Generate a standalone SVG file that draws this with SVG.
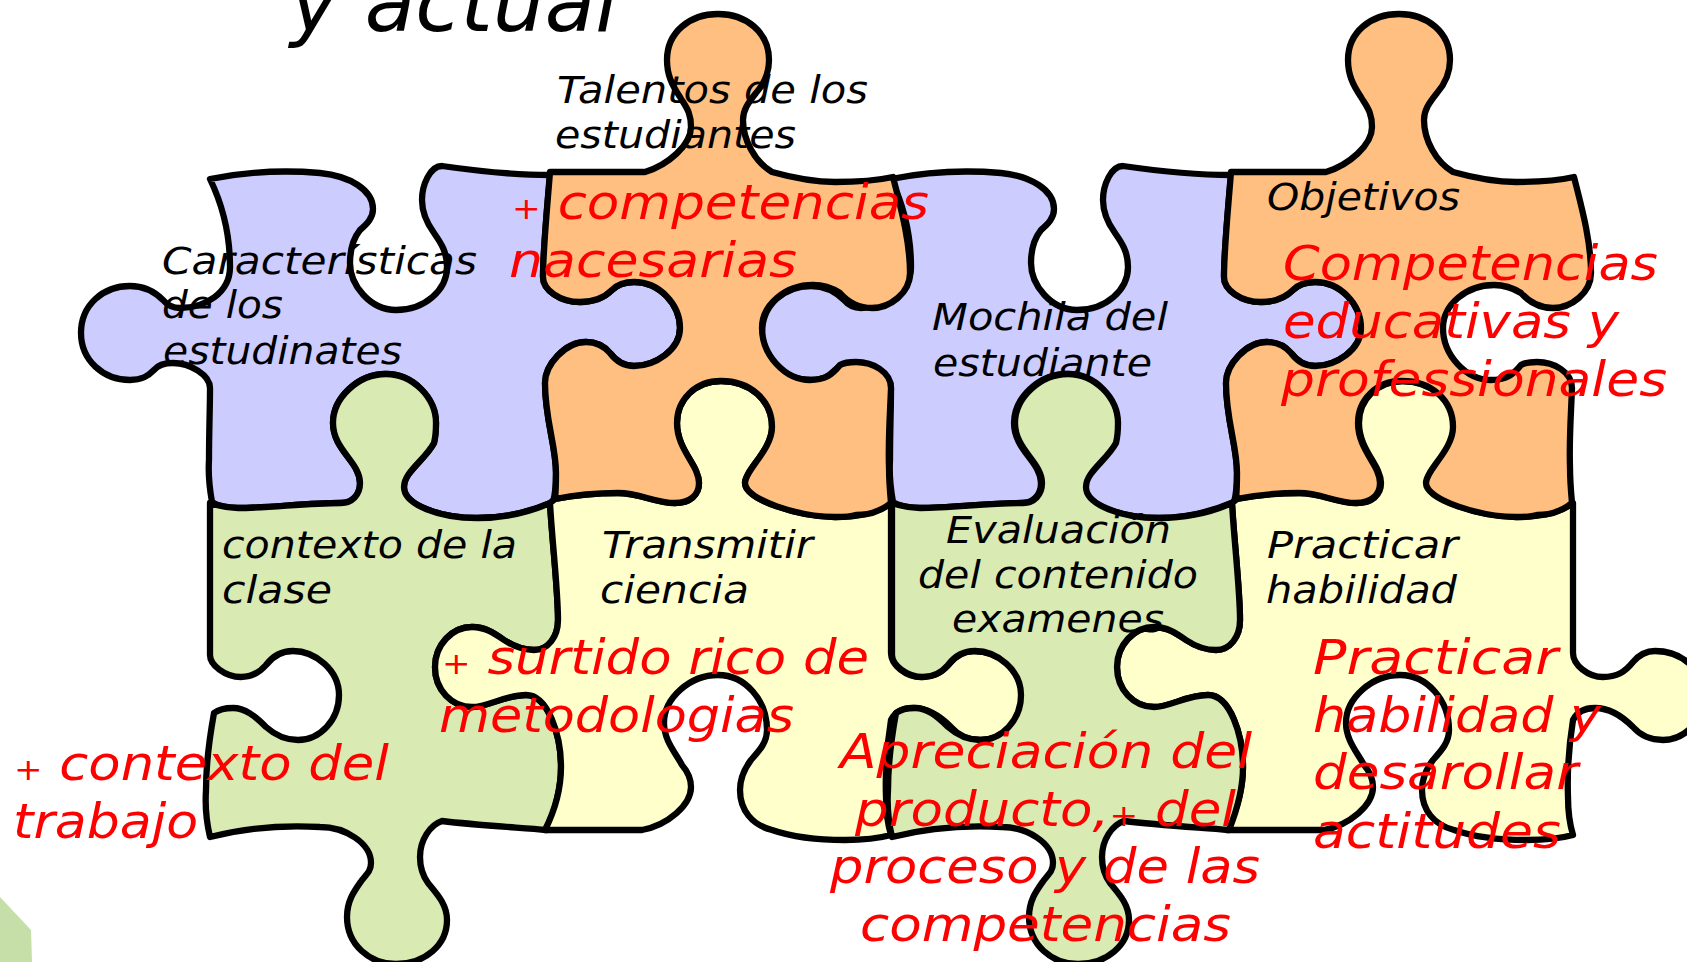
<svg xmlns="http://www.w3.org/2000/svg" xmlns:xlink="http://www.w3.org/1999/xlink" width="1687" height="962" viewBox="0 0 1687 962">
<style>
.p{stroke:#000;stroke-width:6.3;stroke-linejoin:round;stroke-linecap:round}
.blue{fill:#ccccff}.orange{fill:#ffbf80}.green{fill:#d9eab3}.yellow{fill:#ffffcc}
text{font-family:"DejaVu Sans","Liberation Sans",sans-serif;font-style:italic;}
.k{font-size:37px;fill:#000}
.r{font-size:48px;fill:#f00}
.plus{font-size:31px}
</style>
<defs>
<path id="s-blue" d="M210 179 C245 172 285 170 320 173 C350 176 373 190 373 209 C373 218 367 224 360 230 C352 240 350 250 350 263 C350 285 370 310 396 310 C425 310 447 290 447 267 C447 252 441 243 434 233 C426 222 422 212 422 200 C422 185 430 166 442 166 C470 170 510 175 550 175 C547 210 543 250 543 277 C543 290 560 302 580 302 C595 302 604 298 612 290 C618 284 625 282 634 282 C660 282 680 305 680 328 C680 350 655 366 634 366 C623 366 616 361 610 353 C604 346 597 342 586 342 C565 342 545 365 545 383 C545 420 556 445 556 473 C556 485 555 495 553 502 C530 512 505 518 477 518 C440 518 404 505 404 487 C404 472 425 460 434 443 C436 435 436 430 436 423 C436 398 413 374 386 374 C358 374 333 398 333 423 C333 450 360 462 360 483 C360 495 352 503 341 503 C305 503 270 508 238 508 C226 508 216 505 212 502 C209 485 208 475 209 460 C209 430 210 410 210 388 C210 375 190 363 173 363 C163 363 158 365 154 370 C148 376 142 380 130 380 C103 380 81 360 81 333 C81 305 103 286 130 286 C145 286 155 292 163 300 C168 306 175 308 180 308 C205 308 230 293 230 267 C230 240 225 210 210 179 Z"/>
<path id="s-orange" d="M550 172 L645 172 C668 165 691 145 691 127 C691 112 686 107 680 97 C672 85 667 75 667 60 C667 32 690 14 718 14 C746 14 769 32 769 60 C769 75 763 85 756 93 C748 103 743 110 743 120 C743 140 755 162 772 172 C790 177 815 182 835 182 C855 182 875 181 893 177 C900 205 910 240 910 273 C910 293 890 308 872 308 C858 308 848 302 840 293 C832 288 825 285 813 285 C785 285 762 305 762 328 C762 355 785 380 810 380 C825 380 832 375 840 365 C845 362 850 362 856 362 C873 362 891 372 891 388 C890 415 888 440 889 467 C889 480 890 492 891 503 C880 512 868 515 856 515 C850 517 842 517 835 517 C800 517 745 500 745 483 C745 470 772 450 772 427 C772 400 750 381 721 381 C695 381 677 400 677 423 C677 450 699 465 699 483 C699 495 690 503 675 503 C655 503 640 493 618 493 C595 493 575 495 555 499 C556 490 556 482 556 473 C556 445 545 420 545 383 C545 365 565 342 586 342 C597 342 604 346 610 353 C616 361 623 366 634 366 C655 366 680 350 680 328 C680 305 660 282 634 282 C625 282 618 284 612 290 C604 298 595 302 580 302 C560 302 543 290 543 277 C543 250 547 210 550 172 Z"/>
<path id="s-green" d="M210 503 C216 505 226 508 238 508 C270 508 305 503 341 503 C352 503 360 495 360 483 C360 462 333 450 333 423 C333 398 358 374 386 374 C413 374 436 398 436 423 C436 430 436 435 434 443 C425 460 404 472 404 487 C404 505 440 518 477 518 C505 518 530 512 550 503 C552 540 558 590 558 620 C558 637 548 650 534 650 C522 650 513 646 504 640 C494 633 485 627 472 627 C452 627 435 645 435 667 C435 690 452 707 472 707 C488 707 505 695 526 695 C548 695 561 735 561 767 C561 790 555 810 547 830 C510 827 475 825 442 821 C430 825 420 840 420 857 C420 868 423 876 428 883 C438 895 447 905 447 920 C447 945 425 964 396 964 C370 964 347 945 347 917 C347 900 355 890 362 880 C368 873 371 870 371 863 C371 843 345 827 320 827 C285 825 245 828 210 837 C206 820 205 805 206 790 C206 765 210 735 214 713 C218 710 225 708 233 708 C245 708 255 716 266 727 C275 735 285 740 298 740 C320 740 339 720 339 695 C339 670 315 651 293 651 C280 651 272 657 266 665 C260 672 252 677 241 677 C225 677 210 665 210 655 Z"/>
<path id="s-yellow" d="M555 499 C575 495 595 493 618 493 C640 493 655 503 675 503 C690 503 699 495 699 483 C699 465 677 450 677 423 C677 400 695 381 721 381 C750 381 772 400 772 427 C772 450 745 470 745 483 C745 500 800 517 835 517 C850 517 875 515 891 503 L891 653 C891 665 906 677 921 677 C935 677 943 672 951 662 C957 655 963 651 973 651 C1000 651 1022 670 1022 697 C1022 720 1003 740 981 740 C968 740 958 735 951 727 C940 716 928 708 913 708 C903 708 895 712 891 720 C887 745 885 770 886 797 C886 810 888 825 891 835 C880 838 865 840 845 840 C820 840 795 838 772 830 C752 825 740 810 740 790 C740 778 745 768 751 760 C760 750 767 742 767 730 C767 700 745 675 718 675 C690 675 664 698 664 723 C664 740 675 752 682 765 C688 772 691 780 691 787 C691 805 668 825 642 830 L545 830 C555 810 561 790 561 767 C561 735 548 695 526 695 C505 695 488 707 472 707 C452 707 435 690 435 667 C435 645 452 627 472 627 C485 627 494 633 504 640 C513 646 522 650 534 650 C548 650 558 637 558 620 C558 590 552 540 550 503 Z"/>
</defs>
<g id="title"><text x="290" y="31" font-size="82" fill="#000" textLength="328" lengthAdjust="spacingAndGlyphs">y actual</text></g>
<polygon id="corner" points="0,897 31,930 32,962 0,962" fill="#c6dfa8"/>
<g id="caracteristicas">
<use href="#s-blue" class="p blue"/>
<text class="k" x="162" y="274" textLength="315" lengthAdjust="spacingAndGlyphs">Características</text>
<text class="k" x="162" y="318" textLength="121" lengthAdjust="spacingAndGlyphs">de los</text>
<text class="k" x="163" y="364" textLength="239" lengthAdjust="spacingAndGlyphs">estudinates</text>
</g>
<g id="mochila">
<use href="#s-blue" x="681" class="p blue"/>
<text class="k" x="932" y="330" textLength="236" lengthAdjust="spacingAndGlyphs">Mochila del</text>
<text class="k" x="933" y="376" textLength="219" lengthAdjust="spacingAndGlyphs">estudiante</text>
</g>
<g id="contexto">
<use href="#s-green" class="p green"/>
<text class="k" x="222" y="558" textLength="295" lengthAdjust="spacingAndGlyphs">contexto de la</text>
<text class="k" x="222" y="603" textLength="110" lengthAdjust="spacingAndGlyphs">clase</text>
<text class="r" x="14" y="780" textLength="375" lengthAdjust="spacingAndGlyphs"><tspan class="plus">+</tspan> contexto del</text>
<text class="r" x="13" y="838" textLength="185" lengthAdjust="spacingAndGlyphs">trabajo</text>
</g>
<g id="transmitir">
<use href="#s-yellow" class="p yellow"/>
<text class="k" x="602" y="558" textLength="211" lengthAdjust="spacingAndGlyphs">Transmitir</text>
<text class="k" x="600" y="603" textLength="149" lengthAdjust="spacingAndGlyphs">ciencia</text>
<text class="r" x="442" y="674" textLength="427" lengthAdjust="spacingAndGlyphs"><tspan class="plus">+</tspan> surtido rico de</text>
<text class="r" x="439" y="732" textLength="355" lengthAdjust="spacingAndGlyphs">metodologias</text>
</g>
<g id="practicar">
<use href="#s-yellow" x="682" class="p yellow"/>
<text class="k" x="1267" y="558" textLength="191" lengthAdjust="spacingAndGlyphs">Practicar</text>
<text class="k" x="1266" y="603" textLength="191" lengthAdjust="spacingAndGlyphs">habilidad</text>
<text class="r" x="1313" y="674" textLength="245" lengthAdjust="spacingAndGlyphs">Practicar</text>
<text class="r" x="1313" y="732" textLength="288" lengthAdjust="spacingAndGlyphs">habilidad y</text>
<text class="r" x="1313" y="789" textLength="265" lengthAdjust="spacingAndGlyphs">desarollar</text>
<text class="r" x="1313" y="848" textLength="248" lengthAdjust="spacingAndGlyphs">actitudes</text>
</g>
<g id="evaluacion">
<use href="#s-green" x="682" class="p green"/>
<text class="k" x="946" y="543" textLength="225" lengthAdjust="spacingAndGlyphs">Evaluación</text>
<text class="k" x="918" y="588" textLength="280" lengthAdjust="spacingAndGlyphs">del contenido</text>
<text class="k" x="952" y="632" textLength="212" lengthAdjust="spacingAndGlyphs">examenes</text>
<text class="r" x="840" y="768" textLength="412" lengthAdjust="spacingAndGlyphs">Apreciación del</text>
<text class="r" x="855" y="826" textLength="381" lengthAdjust="spacingAndGlyphs">producto,<tspan class="plus">+</tspan> del</text>
<text class="r" x="830" y="883" textLength="430" lengthAdjust="spacingAndGlyphs">proceso y de las</text>
<text class="r" x="860" y="941" textLength="371" lengthAdjust="spacingAndGlyphs">competencias</text>
</g>
<g id="talentos">
<use href="#s-orange" class="p orange"/>
<text class="k" x="557" y="103" textLength="311" lengthAdjust="spacingAndGlyphs">Talentos de los</text>
<text class="k" x="555" y="148" textLength="241" lengthAdjust="spacingAndGlyphs">estudiantes</text>
<text class="r" x="512" y="219" textLength="417" lengthAdjust="spacingAndGlyphs"><tspan class="plus">+</tspan> competencias</text>
<text class="r" x="509" y="277" textLength="288" lengthAdjust="spacingAndGlyphs">nacesarias</text>
</g>
<g id="objetivos">
<use href="#s-orange" x="681" class="p orange"/>
<text class="k" x="1267" y="210" textLength="193" lengthAdjust="spacingAndGlyphs">Objetivos</text>
<text class="r" x="1283" y="280" textLength="375" lengthAdjust="spacingAndGlyphs">Competencias</text>
<text class="r" x="1283" y="338" textLength="336" lengthAdjust="spacingAndGlyphs">educativas y</text>
<text class="r" x="1281" y="396" textLength="386" lengthAdjust="spacingAndGlyphs">professionales</text>
</g>
</svg>
